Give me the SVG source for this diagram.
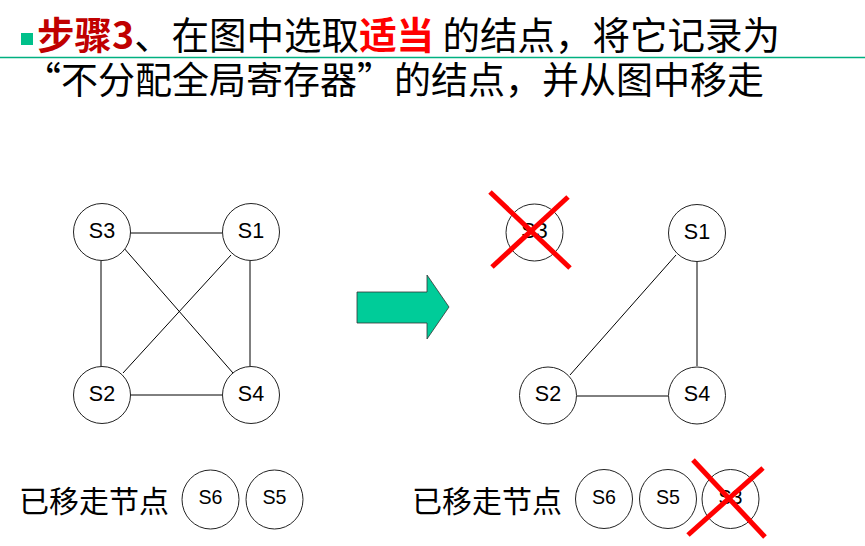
<svg xmlns="http://www.w3.org/2000/svg" width="865" height="546" viewBox="0 0 865 546">
<style>
.hd{font-family:"Noto Sans CJK SC","Noto Sans",sans-serif;font-size:37.5px;fill:#000}
.b{font-weight:bold}
.node circle,.node ellipse{fill:#fff;stroke:#222;stroke-width:1}
.lbl{font-family:"Liberation Sans",Arial,sans-serif;font-size:21.5px;fill:#000;text-anchor:middle}
.lbl2{font-family:"Liberation Sans",Arial,sans-serif;font-size:21px;fill:#000;text-anchor:middle}
.edge line{stroke:#000;stroke-width:1}
.x line{stroke:#ff0000;stroke-width:5;stroke-linecap:butt}
.cap{font-family:"Noto Sans CJK SC","Noto Sans",sans-serif;font-size:30px;fill:#000}
</style>
<rect width="865" height="546" fill="#fff"/>
<g id="header">
<rect x="21" y="33" width="12" height="12" fill="#00c08a"/>
<line x1="0" y1="57.5" x2="865" y2="57.5" stroke="#00b080" stroke-width="1.5"/>
<text class="hd" x="37" y="49"><tspan class="b" fill="#c00000">步骤3</tspan><tspan>、在图中选取</tspan><tspan class="b" fill="#ff0000">适当</tspan><tspan> 的结点，将它记录为</tspan></text>
<text class="hd" x="24" y="94" style="font-size:37px">“不分配全局寄存器”的结点，并从图中移走</text>
</g>
<g id="connectors" class="edge">
<line x1="130" y1="233" x2="222" y2="233"/>
<line x1="101" y1="261" x2="101" y2="367"/>
<line x1="250" y1="261" x2="250" y2="366"/>
<line x1="130" y1="395" x2="222" y2="395"/>
<line x1="123" y1="247" x2="233" y2="373"/>
<line x1="231" y1="255" x2="123" y2="373"/>
<line x1="676" y1="255" x2="570" y2="375"/>
<line x1="697" y1="261" x2="697" y2="366"/>
<line x1="577" y1="396" x2="668" y2="396"/>
</g>
<g id="L-S3" class="node"><circle cx="102" cy="232" r="28.5"/><text class="lbl" x="102" y="237.5">S3</text></g>
<g id="L-S1" class="node"><circle cx="251" cy="232" r="28.5"/><text class="lbl" x="251" y="237.5">S1</text></g>
<g id="L-S2" class="node"><circle cx="102" cy="395" r="28.5"/><text class="lbl" x="102" y="400.5">S2</text></g>
<g id="L-S4" class="node"><circle cx="251" cy="395" r="28.5"/><text class="lbl" x="251" y="400.5">S4</text></g>
<g id="R-S3" class="node"><circle cx="534.5" cy="232.5" r="28.5"/><text class="lbl" x="534.5" y="238">S3</text></g>
<g id="R-S1" class="node"><circle cx="697" cy="233" r="28.5"/><text class="lbl" x="697" y="238.5">S1</text></g>
<g id="R-S2" class="node"><circle cx="548" cy="395.5" r="28.5"/><text class="lbl" x="548" y="401">S2</text></g>
<g id="R-S4" class="node"><circle cx="697" cy="395.5" r="28.5"/><text class="lbl" x="697" y="401">S4</text></g>
<g id="arrow"><polygon points="357,292 427,292 427,275 449,307 427,339 427,323 357,323" fill="#00cc99" stroke="#333" stroke-width="0.8"/></g>
<g id="removed-left">
<text class="cap" x="19" y="512">已移走节点</text>
<g id="BL-S6" class="node"><ellipse cx="210.5" cy="499.5" rx="28.5" ry="29.5"/><text class="lbl2" x="210.5" y="504" textLength="24" lengthAdjust="spacingAndGlyphs">S6</text></g>
<g id="BL-S5" class="node"><ellipse cx="274.5" cy="499.5" rx="28.5" ry="29.5"/><text class="lbl2" x="274.5" y="504" textLength="24" lengthAdjust="spacingAndGlyphs">S5</text></g>
</g>
<g id="removed-right">
<text class="cap" x="412" y="512">已移走节点</text>
<g id="BR-S6" class="node"><ellipse cx="604" cy="499" rx="28.5" ry="29.5"/><text class="lbl2" x="604" y="504" textLength="24" lengthAdjust="spacingAndGlyphs">S6</text></g>
<g id="BR-S5" class="node"><ellipse cx="668" cy="499" rx="28.5" ry="29.5"/><text class="lbl2" x="668" y="504" textLength="24" lengthAdjust="spacingAndGlyphs">S5</text></g>
<g id="BR-S3" class="node"><ellipse cx="730.5" cy="499" rx="28.5" ry="29.5"/><text class="lbl2" x="730.5" y="504" textLength="24" lengthAdjust="spacingAndGlyphs">S3</text></g>
</g>
<g id="crosses" class="x">
<line x1="490" y1="192" x2="570" y2="268"/>
<line x1="568" y1="197" x2="492" y2="267"/>
<line x1="693" y1="460" x2="765" y2="537"/>
<line x1="763" y1="468" x2="688" y2="535"/>
</g>
</svg>
